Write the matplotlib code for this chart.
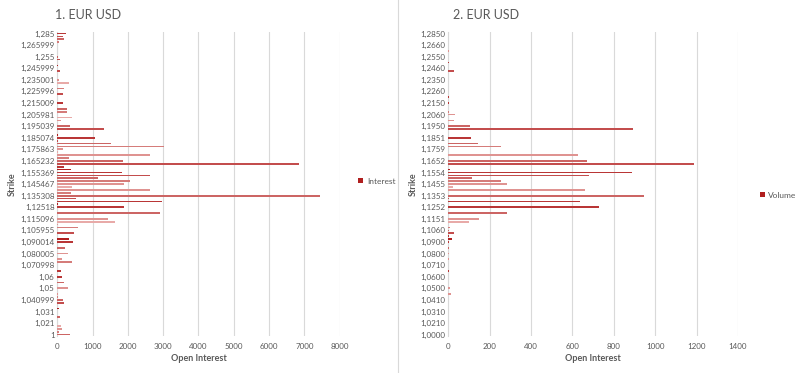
import numpy as np
import matplotlib
matplotlib.use("Agg")
import matplotlib.pyplot as plt
from matplotlib.patches import Patch
from matplotlib.lines import Line2D
from matplotlib.colors import to_rgb

plt.rcParams['font.family'] = ['Lato', 'DejaVu Sans']

# strike axis labels shown by Excel (every 4th category, bottom to top)
interest_labels = ["1", "1,021", "1,031", "1,040999", "1,05", "1,06", "1,070998",
                   "1,080005", "1,090014", "1,105955", "1,115096", "1,12518",
                   "1,135308", "1,145467", "1,155369", "1,165232", "1,175863",
                   "1,185074", "1,195039", "1,205981", "1,215009", "1,225996",
                   "1,235001", "1,245999", "1,255", "1,265999", "1,285"]
volume_labels = ["1,0000", "1,0210", "1,0310", "1,0410", "1,0500", "1,0600", "1,0710",
                 "1,0800", "1,0900", "1,1060", "1,1151", "1,1252", "1,1353", "1,1455",
                 "1,1554", "1,1652", "1,1759", "1,1851", "1,1950", "1,2060", "1,2150",
                 "1,2260", "1,2350", "1,2460", "1,2550", "1,2660", "1,2850"]

# open interest per strike, bottom (1.0) to top (1.285)
interest = [370, 60, 126, 100, 0, 0, 75, 0, 0, 50,
            0, 185, 170, 25, 25, 0, 293, 0, 190, 0,
            133, 0, 113, 0, 0, 416, 133, 0, 293, 0,
            218, 0, 445, 322, 0, 473, 0, 596, 30, 1635,
            1437, 0, 2920, 0, 1880, 30, 2956, 539, 7430, 378,
            2626, 416, 1890, 2060, 1153, 2626, 1833, 378, 190, 6848,
            1861, 330, 2635, 30, 150, 3013, 1521, 25, 1060, 30,
            0, 1313, 360, 0, 105, 407, 0, 275, 275, 0,
            150, 0, 0, 160, 0, 190, 0, 330, 60, 0,
            0, 75, 0, 25, 0, 65, 30, 0, 0, 0,
            0, 35, 190, 152, 237]

# volume per strike, bottom (1.0000) to top (1.2850)
volume = [0, 0, 0, 0, 0, 0, 0, 0, 0, 0,
          0, 0, 0, 0, 11, 0, 10, 0, 0, 0,
          0, 0, 5, 0, 0, 0, 3, 0, 3, 0,
          5, 0, 3, 19, 4, 27, 4, 6, 0, 101,
          146, 0, 286, 0, 727, 0, 637, 3, 948, 0,
          663, 21, 286, 253, 113, 679, 890, 6, 0, 1189,
          671, 0, 629, 0, 0, 253, 143, 0, 109, 0,
          0, 891, 105, 0, 27, 0, 34, 3, 0, 0,
          3, 0, 3, 0, 0, 0, 0, 0, 0, 0,
          0, 27, 0, 0, 3, 0, 0, 0, 3, 0,
          0, 0, 0, 0, 0]

TXT = "#595959"
GRID = "#D9D9D9"
DARK = np.array(to_rgb("#B01F1F"))
LIGHT = np.array(to_rgb("#E8AAA8"))


def shades(n):
    # excel "vary colours by point" - shades cycle dark -> light -> dark
    out = []
    for i in range(n):
        p = i % 12
        d = min(abs(p - 3), 12 - abs(p - 3))
        w = 1 - d / 6.0
        out.append(tuple(DARK * (1 - w) + LIGHT * w))
    return out


def draw_panel(ax, values, labels, xmax, xstep, legend_name, leg_xy):
    n = len(values)
    y = np.arange(n)
    ax.barh(y, values, height=0.6, color=shades(n), linewidth=0, zorder=3)
    ax.set_ylim(-0.5, n - 0.5)
    ax.set_xlim(0, xmax)
    ax.set_xticks(np.arange(0, xmax + 1, xstep))
    ax.set_yticks(np.arange(0, n, 4))
    ax.set_yticklabels(labels)
    ax.xaxis.grid(True, color=GRID, linewidth=0.8, zorder=0)
    for s in ["top", "right", "bottom"]:
        ax.spines[s].set_visible(False)
    ax.spines["left"].set_color(GRID)
    ax.tick_params(axis="both", length=0, labelsize=5.8, colors=TXT)
    ax.tick_params(axis="x", pad=5)
    ax.tick_params(axis="y", pad=2)
    ax.set_xlabel("Open Interest", fontsize=6.5, fontweight="bold", color=TXT, labelpad=3)
    ax.set_ylabel("Strike", fontsize=6.5, fontweight="bold", color=TXT, labelpad=2)
    h = [Patch(facecolor=tuple(DARK), edgecolor="none")]
    ax.legend(h, [legend_name], loc="center left", bbox_to_anchor=leg_xy,
              frameon=False, fontsize=6, handlelength=0.6, handleheight=0.6,
              handletextpad=0.4, labelcolor=TXT)


fig = plt.figure(figsize=(8, 3.73), dpi=100)
ax1 = fig.add_axes([0.0716, 0.099, 0.353, 0.815])
ax2 = fig.add_axes([0.5604, 0.099, 0.362, 0.815])

draw_panel(ax1, interest, interest_labels, 8000, 1000, "Interest", (1.04, 0.51))
draw_panel(ax2, volume, volume_labels, 1400, 200, "Volume", (1.05, 0.464))

fig.text(0.069, 1 - 15 / 373, "1. EUR USD", fontsize=9, color=TXT, va="center")
fig.text(0.566, 1 - 15 / 373, "2. EUR USD", fontsize=9, color=TXT, va="center")

fig.add_artist(Line2D([0.4975, 0.4975], [0, 1], color=GRID, linewidth=0.8,
                      transform=fig.transFigure))

fig.savefig("out.png", dpi=100)
